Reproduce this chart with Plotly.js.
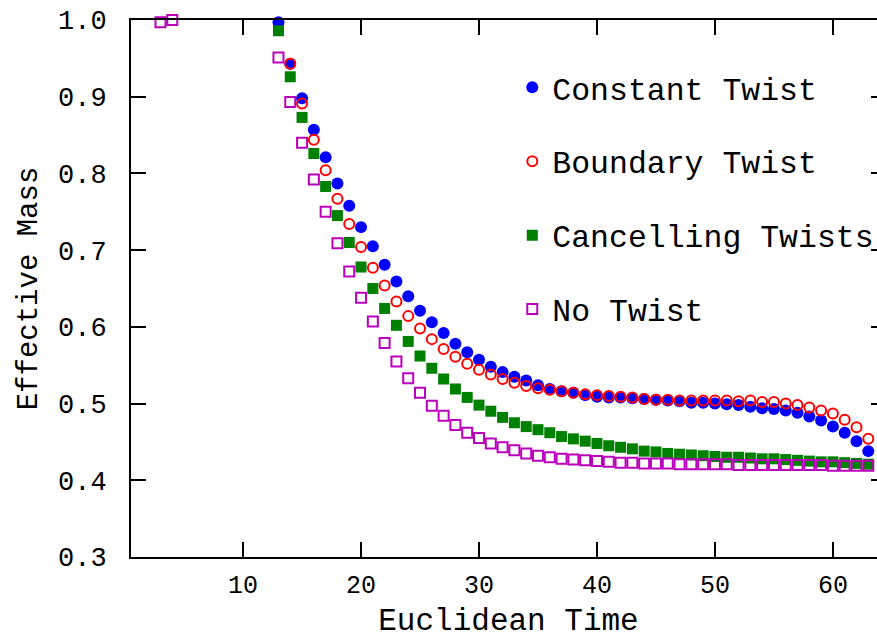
<!DOCTYPE html>
<html>
<head>
<meta charset="utf-8">
<script src="https://cdn.plot.ly/plotly-3.0.1.min.js"></script>
<style>
html, body { margin: 0; padding: 0; overflow: hidden; background: #fff; }
#chart { width: 892px; height: 640px; }
</style>
</head>
<body>
<div id="chart"></div>
<script>
// ---- data ----
const tMain = [13,14,15,16,17,18,19,20,21,22,23,24,25,26,27,28,29,30,31,32,33,34,35,36,37,38,39,40,41,42,43,44,45,46,47,48,49,50,51,52,53,54,55,56,57,58,59,60,61,62,63];

const constantTwist = [0.997,0.943,0.898,0.857,0.821,0.787,0.758,0.730,0.705,0.681,0.659,0.640,0.621,0.606,0.592,0.578,0.567,0.557,0.548,0.541,0.535,0.530,0.524,0.519,0.516,0.514,0.511,0.509,0.508,0.508,0.507,0.506,0.505,0.504,0.503,0.501,0.501,0.500,0.499,0.498,0.496,0.494,0.493,0.491,0.488,0.483,0.478,0.470,0.462,0.451,0.438];

const tBoundary = [14,15,16,17,18,19,20,21,22,23,24,25,26,27,28,29,30,31,32,33,34,35,36,37,38,39,40,41,42,43,44,45,46,47,48,49,50,51,52,53,54,55,56,57,58,59,60,61,62,63];
const boundaryTwist = [0.943,0.891,0.844,0.804,0.767,0.734,0.704,0.677,0.654,0.633,0.614,0.598,0.584,0.571,0.561,0.552,0.544,0.538,0.532,0.527,0.523,0.520,0.518,0.516,0.514,0.512,0.511,0.510,0.509,0.508,0.506,0.505,0.505,0.504,0.504,0.504,0.504,0.504,0.503,0.504,0.502,0.502,0.500,0.498,0.495,0.491,0.487,0.479,0.469,0.454];

const cancellingTwists = [0.986,0.926,0.873,0.826,0.783,0.745,0.710,0.678,0.650,0.624,0.602,0.581,0.562,0.546,0.532,0.519,0.508,0.498,0.490,0.482,0.475,0.470,0.466,0.462,0.457,0.454,0.451,0.448,0.445,0.443,0.441,0.438,0.437,0.435,0.434,0.433,0.432,0.431,0.430,0.430,0.429,0.428,0.428,0.427,0.426,0.425,0.424,0.424,0.423,0.422,0.421];

const tNoTwist = [3,4,13,14,15,16,17,18,19,20,21,22,23,24,25,26,27,28,29,30,31,32,33,34,35,36,37,38,39,40,41,42,43,44,45,46,47,48,49,50,51,52,53,54,55,56,57,58,59,60,61,62,63];
const noTwist = [0.997,1.000,0.951,0.893,0.840,0.792,0.750,0.709,0.672,0.638,0.607,0.579,0.555,0.533,0.514,0.497,0.484,0.472,0.462,0.455,0.448,0.443,0.439,0.435,0.432,0.430,0.428,0.427,0.426,0.425,0.424,0.423,0.423,0.422,0.422,0.422,0.421,0.421,0.421,0.421,0.421,0.420,0.420,0.420,0.420,0.420,0.420,0.420,0.420,0.419,0.419,0.419,0.419];

const seriesNames = ["Constant Twist","Boundary Twist","Cancelling Twists","No Twist"];
const xTicks = [10,20,30,40,50,60];
const yTicks = [0.3,0.4,0.5,0.6,0.7,0.8,0.9,1.0];
const yTickText = ["0.3","0.4","0.5","0.6","0.7","0.8","0.9","1.0"];

const FONT = "Liberation Mono, DejaVu Sans Mono, monospace";

const traces = [
  {x: tMain, y: constantTwist, name: seriesNames[0], legendgroup: "a", mode: "markers", type: "scatter",
   marker: {symbol: "circle", size: 12, color: "#0000ff", line: {width: 0}}, cliponaxis: false},
  {x: tBoundary, y: boundaryTwist, name: seriesNames[1], legendgroup: "b", mode: "markers", type: "scatter",
   marker: {symbol: "circle-open", size: 10, color: "#ff0000", line: {width: 2, color: "#ff0000"}}, cliponaxis: false},
  {x: tMain, y: cancellingTwists, name: seriesNames[2], legendgroup: "c", mode: "markers", type: "scatter",
   marker: {symbol: "square", size: 11, color: "#008000", line: {width: 0}}, cliponaxis: false},
  {x: tNoTwist, y: noTwist, name: seriesNames[3], legendgroup: "d", mode: "markers", type: "scatter",
   marker: {symbol: "square-open", size: 10, color: "#bb00bb", line: {width: 2, color: "#bb00bb"}}, cliponaxis: false}
];

const layout = {
  width: 892, height: 640,
  margin: {l: 131, r: 6, t: 20, b: 83},
  paper_bgcolor: "#ffffff", plot_bgcolor: "#ffffff",
  font: {family: FONT, color: "#000", size: 26},
  showlegend: true,
  legend: {
    x: 0.505, y: 0.925, xanchor: "left", yanchor: "top",
    bgcolor: "rgba(0,0,0,0)", borderwidth: 0,
    font: {family: FONT, size: 31.5, color: "#000"},
    tracegroupgap: 30, itemwidth: 30
  },
  xaxis: {
    range: [0.5, 64.5], tickvals: xTicks, ticktext: xTicks.map(String),
    ticks: "inside", ticklen: 15, tickwidth: 2, tickcolor: "#000",
    showline: true, linewidth: 2, linecolor: "#000", mirror: "ticks",
    showgrid: false, zeroline: false, ticklabelstandoff: 4,
    tickfont: {family: FONT, size: 25},
    title: {text: "Euclidean Time", font: {family: FONT, size: 31}, standoff: 8}
  },
  yaxis: {
    range: [0.3, 1.0], tickvals: yTicks, ticktext: yTickText,
    ticks: "inside", ticklen: 15, tickwidth: 2, tickcolor: "#000",
    showline: true, linewidth: 2, linecolor: "#000", mirror: "ticks",
    showgrid: false, zeroline: false, ticklabelstandoff: 17,
    tickfont: {family: FONT, size: 27},
    title: {text: "Effective Mass", font: {family: FONT, size: 29}, standoff: 12}
  }
};

Plotly.newPlot("chart", traces, layout, {displayModeBar: false, staticPlot: true});
</script>
</body>
</html>
